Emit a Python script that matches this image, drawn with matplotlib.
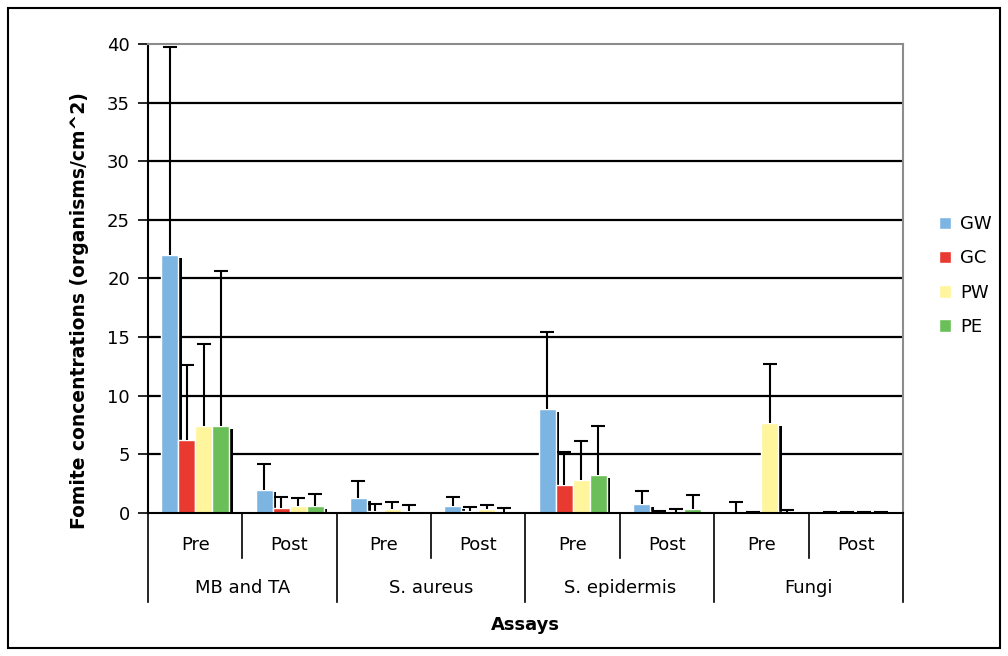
import numpy as np
import matplotlib.pyplot as plt
from matplotlib.patches import Rectangle

# data
groups = ['MB and TA', 'S. aureus', 'S. epidermis', 'Fungi']
phases = ['Pre', 'Post']
series = ['GW', 'GC', 'PW', 'PE']
colors = ['#7db5e2', '#e83a30', '#fff59d', '#6abf59']

# order: MB Pre, MB Post, Sa Pre, Sa Post, Se Pre, Se Post, Fu Pre, Fu Post
gw = [22.0, 2.0, 1.25, 0.6, 8.9, 0.75, 0.05, 0.05]
gc = [6.2, 0.45, 0.2, 0.2, 2.35, 0.08, 0.08, 0.08]
pw = [7.4, 0.6, 0.3, 0.3, 2.8, 0.05, 7.65, 0.1]
pe = [7.4, 0.6, 0.15, 0.05, 3.2, 0.3, 0.05, 0.1]

# tops of the (upper only) error bars
gw_top = [39.7, 4.2, 2.7, 1.4, 15.4, 1.9, 0.95, 0.05]
gc_top = [12.6, 1.35, 0.75, 0.55, 5.2, 0.2, 0.08, 0.08]
pw_top = [14.4, 1.3, 0.95, 0.65, 6.1, 0.3, 12.7, 0.1]
pe_top = [20.6, 1.6, 0.7, 0.45, 7.4, 1.5, 0.25, 0.1]

vals = [gw, gc, pw, pe]
tops = [gw_top, gc_top, pw_top, pe_top]

fig = plt.figure(figsize=(10.08, 6.56), dpi=100)
ax = fig.add_axes([0.1468, 0.218, 0.749, 0.715])

x = np.arange(8) + 0.5
w = 0.18
for j in range(4):
    v = np.array(vals[j])
    t = np.array(tops[j])
    xs = x + (j - 1.5) * w
    # excel-style drop shadow
    ax.bar(xs + 0.04, np.maximum(v - 0.25, 0), w, color='black', zorder=1)
    ax.bar(xs, v, w, color=colors[j], edgecolor='white', linewidth=1,
           zorder=2, label=series[j])
    ax.vlines(xs, v, t, color='black', lw=1.5, zorder=3)
    ax.plot(xs, t, ls='none', marker='_', ms=9.5, mew=1.5, color='black', zorder=3)

for yv in range(5, 40, 5):
    ax.axhline(yv, color='black', lw=1.6, zorder=0)

ax.set_xlim(0, 8)
ax.set_ylim(0, 40)
ax.set_yticks(range(0, 45, 5))
ax.set_xticks([])
ax.tick_params(axis='y', direction='out', length=7, width=1.2, pad=6, labelsize=13)
ax.spines['left'].set_linewidth(1.5)
ax.spines['bottom'].set_linewidth(1.5)
ax.spines['top'].set_color('#8c8c8c')
ax.spines['right'].set_color('#8c8c8c')
ax.spines['top'].set_linewidth(1.5)
ax.spines['right'].set_linewidth(1.5)

# two-level category axis
tr = ax.get_xaxis_transform()
for i in range(8):
    ax.text(x[i], -0.068, phases[i % 2], transform=tr, ha='center', va='center', fontsize=13)
for g in range(4):
    ax.text(2 * g + 1, -0.16, groups[g], transform=tr, ha='center', va='center', fontsize=13)
for i in range(9):
    ylow = -0.19 if i % 2 == 0 else -0.096
    ax.plot([i, i], [0, ylow], color='black', lw=1.2, transform=tr, clip_on=False)

fig.text(0.079, 0.527, 'Fomite concentrations (organisms/cm^2)', rotation=90,
         ha='center', va='center', fontsize=13.5, fontweight='bold')
fig.text(0.521, 0.047, 'Assays', ha='center', va='center', fontsize=13, fontweight='bold')

fig.legend(loc='center left', bbox_to_anchor=(0.915, 0.58), frameon=False, fontsize=13,
           handlelength=0.7, handleheight=0.7, handletextpad=0.5, labelspacing=0.9)

fig.patches.append(Rectangle((0.008, 0.012), 0.984, 0.976, transform=fig.transFigure,
                             fill=False, edgecolor='black', lw=1.5))

fig.savefig('out.png', dpi=100)
